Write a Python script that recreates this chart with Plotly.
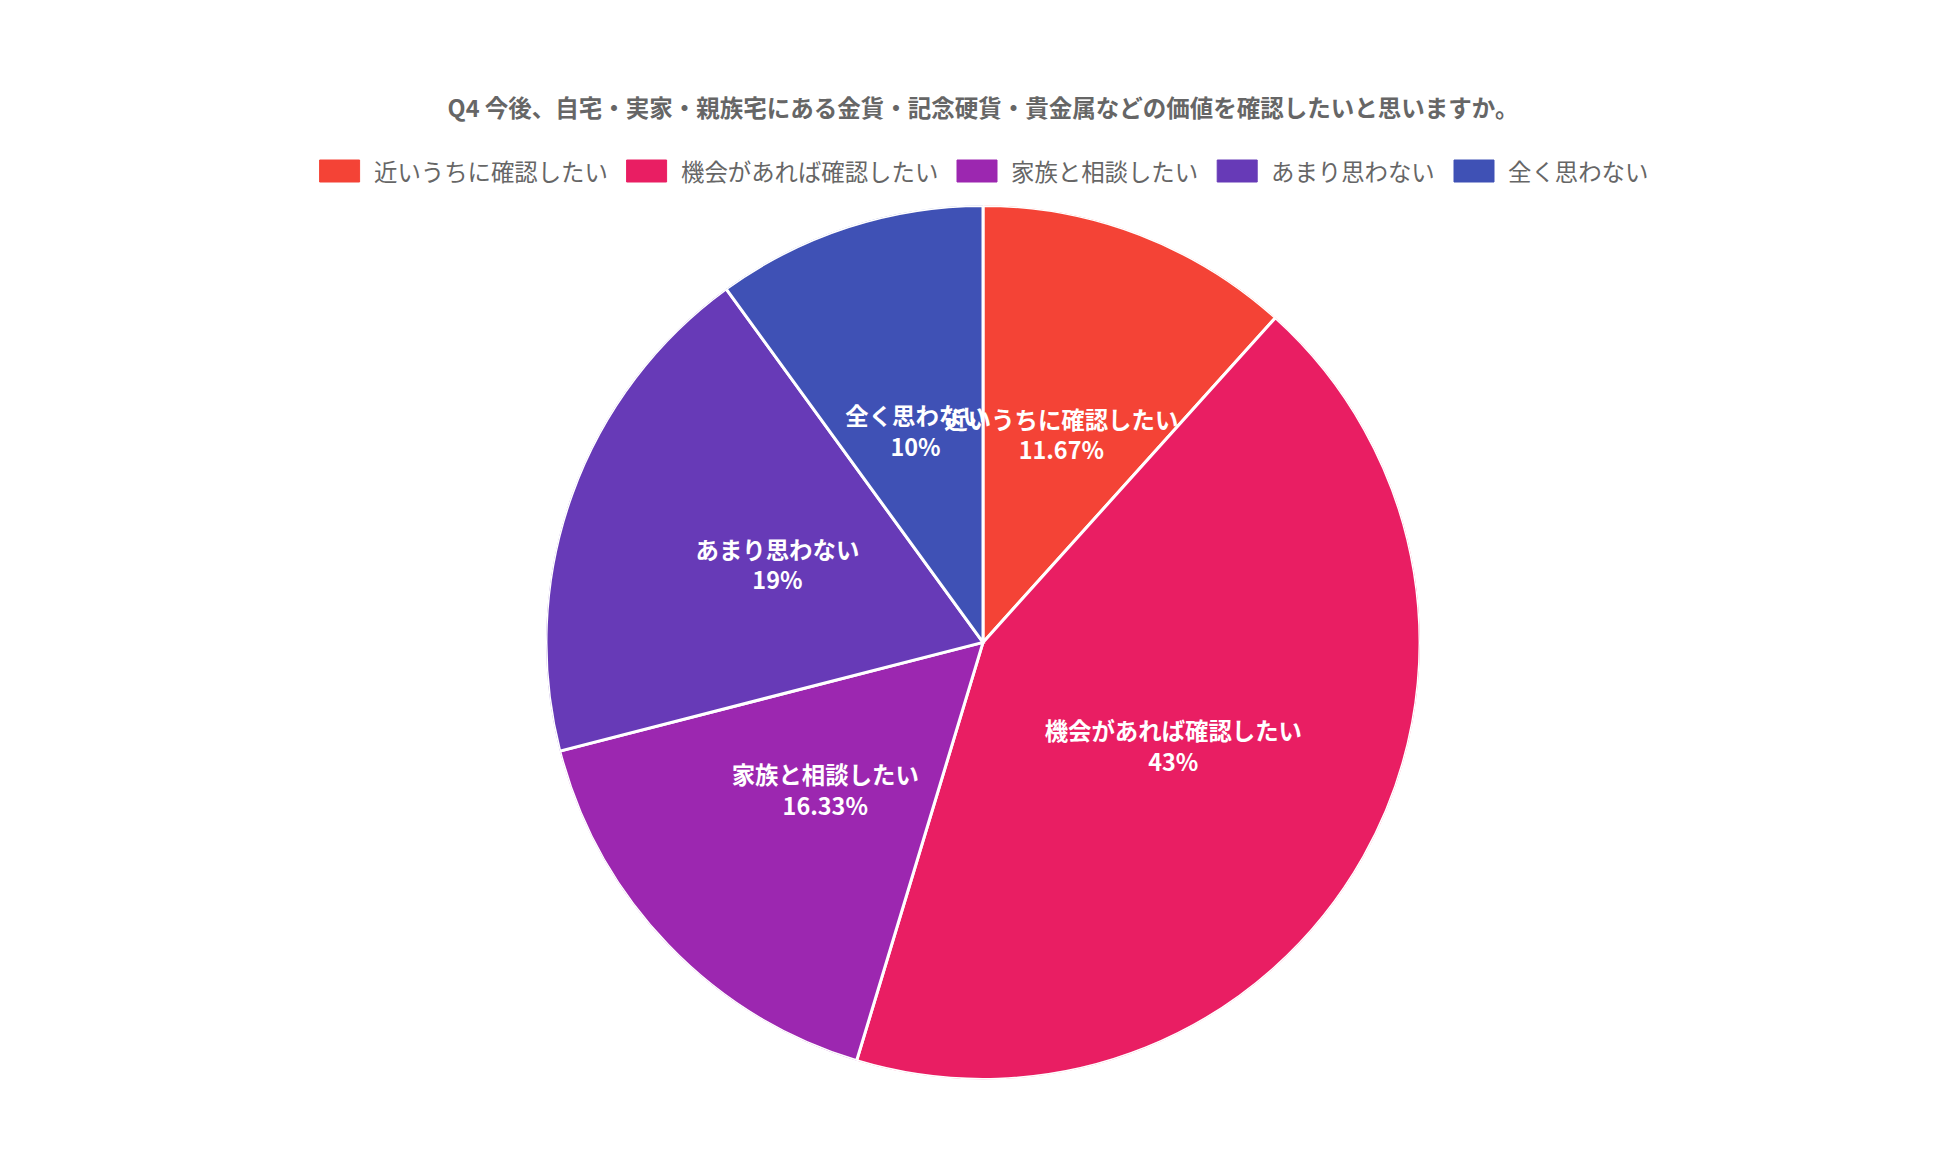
import plotly.graph_objects as go

labels = ["近いうちに確認したい", "機会があれば確認したい", "家族と相談したい", "あまり思わない", "全く思わない"]
values = [11.67, 43, 16.33, 19, 10]
colors = ["#F44336", "#E91E63", "#9C27B0", "#673AB7", "#3F51B5"]
title_text = "Q4 今後、自宅・実家・親族宅にある金貨・記念硬貨・貴金属などの価値を確認したいと思いますか。"

font = "Noto Sans CJK JP"
W, H = 1950, 1168

# slice geometry in degrees (clockwise from 12 o'clock)
total = sum(values)
spans = [v / total * 360 for v in values]
mid_angles = []
acc = 0
for s in spans:
    mid_angles.append(acc + s / 2)
    acc += s

fig = go.Figure()
# pie slices drawn as full-radius polar bars
fig.add_trace(go.Barpolar(
    r=[1] * len(values),
    theta=mid_angles,
    width=spans,
    marker=dict(color=colors, line=dict(color="#ffffff", width=3)),
    customdata=labels,
    hovertemplate="%{customdata}: %{text}%<extra></extra>",
    text=[f"{v:g}" for v in values],
    showlegend=False,
))
# data labels at the middle of each arc, half way out (like chartjs datalabels)
fig.add_trace(go.Scatterpolar(
    r=[0.5] * len(values),
    theta=mid_angles,
    mode="text",
    text=[f"<b>{l}<br>{v:g}%</b>" for l, v in zip(labels, values)],
    textposition="middle center",
    textfont=dict(family=font, size=23.4, color="#ffffff"),
    hoverinfo="skip",
    showlegend=False,
))

# legend drawn like chartjs: wide colour boxes + labels, centred
fs = 23.4
box_w, box_h, gap, spacing = 40, 22, 12, 21
leg_y = 163
widths = [box_w + gap + len(l) * fs for l in labels]
x0 = W / 2 - (sum(widths) + spacing * (len(labels) - 1)) / 2
shapes, annotations = [], []
for l, c, w in zip(labels, colors, widths):
    shapes.append(dict(
        type="rect", xref="paper", yref="paper",
        x0=x0 / W, x1=(x0 + box_w) / W,
        y0=1 - (leg_y + box_h / 2) / H, y1=1 - (leg_y - box_h / 2) / H,
        fillcolor=c, line=dict(color=c, width=1),
    ))
    annotations.append(dict(
        text=l, xref="paper", yref="paper",
        x=(x0 + box_w + gap) / W, y=1 - leg_y / H,
        xanchor="left", yanchor="middle", showarrow=False,
        font=dict(family=font, size=fs, color="#666666"),
    ))
    x0 += w + spacing

fig.update_layout(
    width=W,
    height=H,
    paper_bgcolor="#ffffff",
    margin=dict(l=0, r=0, t=0, b=0),
    polar=dict(
        domain=dict(x=[0, 1], y=[0.0827, 0.831]),
        bgcolor="rgba(0,0,0,0)",
        bargap=0,
        radialaxis=dict(range=[0, 1], visible=False),
        angularaxis=dict(rotation=90, direction="clockwise", visible=False),
    ),
    title=dict(
        text=f"<b>{title_text}</b>",
        x=0.5, xanchor="center", y=1 - 101 / H, yanchor="middle",
        font=dict(family=font, size=23.5, color="#666666"),
    ),
    shapes=shapes,
    annotations=annotations,
)

fig.write_html("out.html")
